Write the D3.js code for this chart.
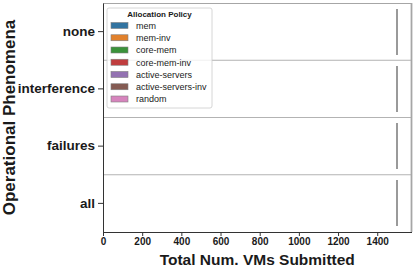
<!DOCTYPE html>
<html lang="en">
<head>
<meta charset="UTF-8">
<title>VMs submitted per phenomenon</title>
<script src="https://cdn.jsdelivr.net/npm/d3@7"></script>
<style>
  body { margin: 0; background: #fff; }
  text { font-family: "Liberation Sans", Arial, sans-serif; }
</style>
</head>
<body>
<svg width="415" height="268"></svg>
<script>
// categories on the y axis
const phenomena = ["none", "interference", "failures", "all"];
// hue levels (allocation policies)
const policies = ["mem", "mem-inv", "core-mem", "core-mem-inv", "active-servers", "active-servers-inv", "random"];
const policyColors = ["#3274a1", "#e1812c", "#3a923a", "#c03d3e", "#9372b2", "#845b53", "#d684bd"];
// total VMs submitted, one value per phenomenon, for each policy
const memVMs = [1500, 1500, 1500, 1500];
const memInvVMs = [1500, 1500, 1500, 1500];
const coreMemVMs = [1500, 1500, 1500, 1500];
const coreMemInvVMs = [1500, 1500, 1500, 1500];
const activeServersVMs = [1500, 1500, 1500, 1500];
const activeServersInvVMs = [1500, 1500, 1500, 1500];
const randomVMs = [1500, 1500, 1500, 1500];
const xTicks = [0, 200, 400, 600, 800, 1000, 1200, 1400];

const seriesByPolicy = [memVMs, memInvVMs, coreMemVMs, coreMemInvVMs,
  activeServersVMs, activeServersInvVMs, randomVMs];

const svg = d3.select("svg");
const width = +svg.attr("width");
const height = +svg.attr("height");
const margin = {top: 3, right: 3.5, bottom: 36, left: 103};

const x = d3.scaleLinear()
  .domain([0, 1575])
  .range([margin.left, width - margin.right]);

const y = d3.scaleBand()
  .domain(phenomena)
  .range([margin.top, height - margin.bottom]);

const yHue = d3.scaleBand()
  .domain(policies)
  .range([0, y.bandwidth() * 0.8]);

// band separators
svg.append("g")
  .selectAll("line")
  .data(phenomena.slice(1))
  .join("line")
  .attr("x1", x.range()[0])
  .attr("x2", x.range()[1])
  .attr("y1", d => y(d))
  .attr("y2", d => y(d))
  .attr("stroke", "#b3b3b3")
  .attr("stroke-width", 1);

// boxes: all quartiles equal, so each box collapses to its edge line
const boxData = [];
phenomena.forEach((p, i) => {
  policies.forEach((pol, j) => {
    boxData.push({phen: p, policy: pol, color: policyColors[j], v: seriesByPolicy[j][i]});
  });
});

svg.append("g")
  .attr("shape-rendering", "crispEdges")
  .selectAll("line")
  .data(boxData)
  .join("line")
  .attr("x1", d => x(d.v))
  .attr("x2", d => x(d.v))
  .attr("y1", d => y(d.phen) + y.bandwidth() * 0.1 + yHue(d.policy))
  .attr("y2", d => y(d.phen) + y.bandwidth() * 0.1 + yHue(d.policy) + yHue.bandwidth())
  .attr("stroke", "#9a9a9a")
  .attr("stroke-width", 2);

// frame: top and right spines in grey
svg.append("line")
  .attr("x1", x.range()[0]).attr("x2", x.range()[1])
  .attr("y1", margin.top + 0.5).attr("y2", margin.top + 0.5)
  .attr("stroke", "#a6a6a6");
svg.append("line")
  .attr("x1", x.range()[1]).attr("x2", x.range()[1])
  .attr("y1", margin.top).attr("y2", height - margin.bottom)
  .attr("stroke", "#a6a6a6").attr("stroke-width", 1.8);

// axes
const xAxis = svg.append("g")
  .attr("transform", `translate(0,${height - margin.bottom})`)
  .call(d3.axisBottom(x).tickValues(xTicks).tickFormat(d3.format("d"))
    .tickSize(4).tickPadding(2).tickSizeOuter(0));
xAxis.select(".domain").attr("stroke", "#333");
xAxis.selectAll(".tick line").attr("stroke", "#333");
xAxis.selectAll("text")
  .attr("font-size", 10).attr("font-weight", "bold").attr("fill", "#1a1a1a");

const yAxis = svg.append("g")
  .attr("transform", `translate(${margin.left},0)`)
  .call(d3.axisLeft(y).tickSize(5).tickPadding(3).tickSizeOuter(0));
yAxis.select(".domain").attr("stroke", "#333");
yAxis.selectAll(".tick line").attr("stroke", "#333");
yAxis.selectAll("text")
  .attr("font-size", 13.5).attr("font-weight", "bold").attr("fill", "#1a1a1a");

// axis titles
svg.append("text")
  .attr("x", (x.range()[0] + x.range()[1]) / 2)
  .attr("y", 265)
  .attr("text-anchor", "middle")
  .attr("font-size", 15.5)
  .attr("font-weight", "bold")
  .attr("fill", "#1a1a1a")
  .text("Total Num. VMs Submitted");

svg.append("text")
  .attr("transform", `translate(14.5,${(margin.top + height - margin.bottom) / 2}) rotate(-90)`)
  .attr("text-anchor", "middle")
  .attr("font-size", 17)
  .attr("font-weight", "bold")
  .attr("fill", "#1a1a1a")
  .text("Operational Phenomena");

// legend
const legend = svg.append("g").attr("transform", "translate(107,8)");
legend.append("rect")
  .attr("width", 105).attr("height", 100)
  .attr("rx", 2)
  .attr("fill", "#fff").attr("fill-opacity", 0.8)
  .attr("stroke", "#cccccc").attr("stroke-width", 0.8);
legend.append("text")
  .attr("x", 52.5).attr("y", 9)
  .attr("text-anchor", "middle")
  .attr("font-size", 8).attr("font-weight", "bold").attr("fill", "#1a1a1a")
  .text("Allocation Policy");
const items = legend.selectAll("g.item")
  .data(policies)
  .join("g")
  .attr("class", "item")
  .attr("transform", (d, i) => `translate(4,${17.5 + i * 12.25})`);
items.append("rect")
  .attr("width", 17).attr("height", 6).attr("y", -3)
  .attr("fill", (d, i) => policyColors[i])
  .attr("stroke", "#7f7f7f").attr("stroke-width", 0.6);
items.append("text")
  .attr("x", 25).attr("y", 3.3)
  .attr("font-size", 9).attr("fill", "#1a1a1a")
  .text(d => d);
</script>
</body>
</html>
